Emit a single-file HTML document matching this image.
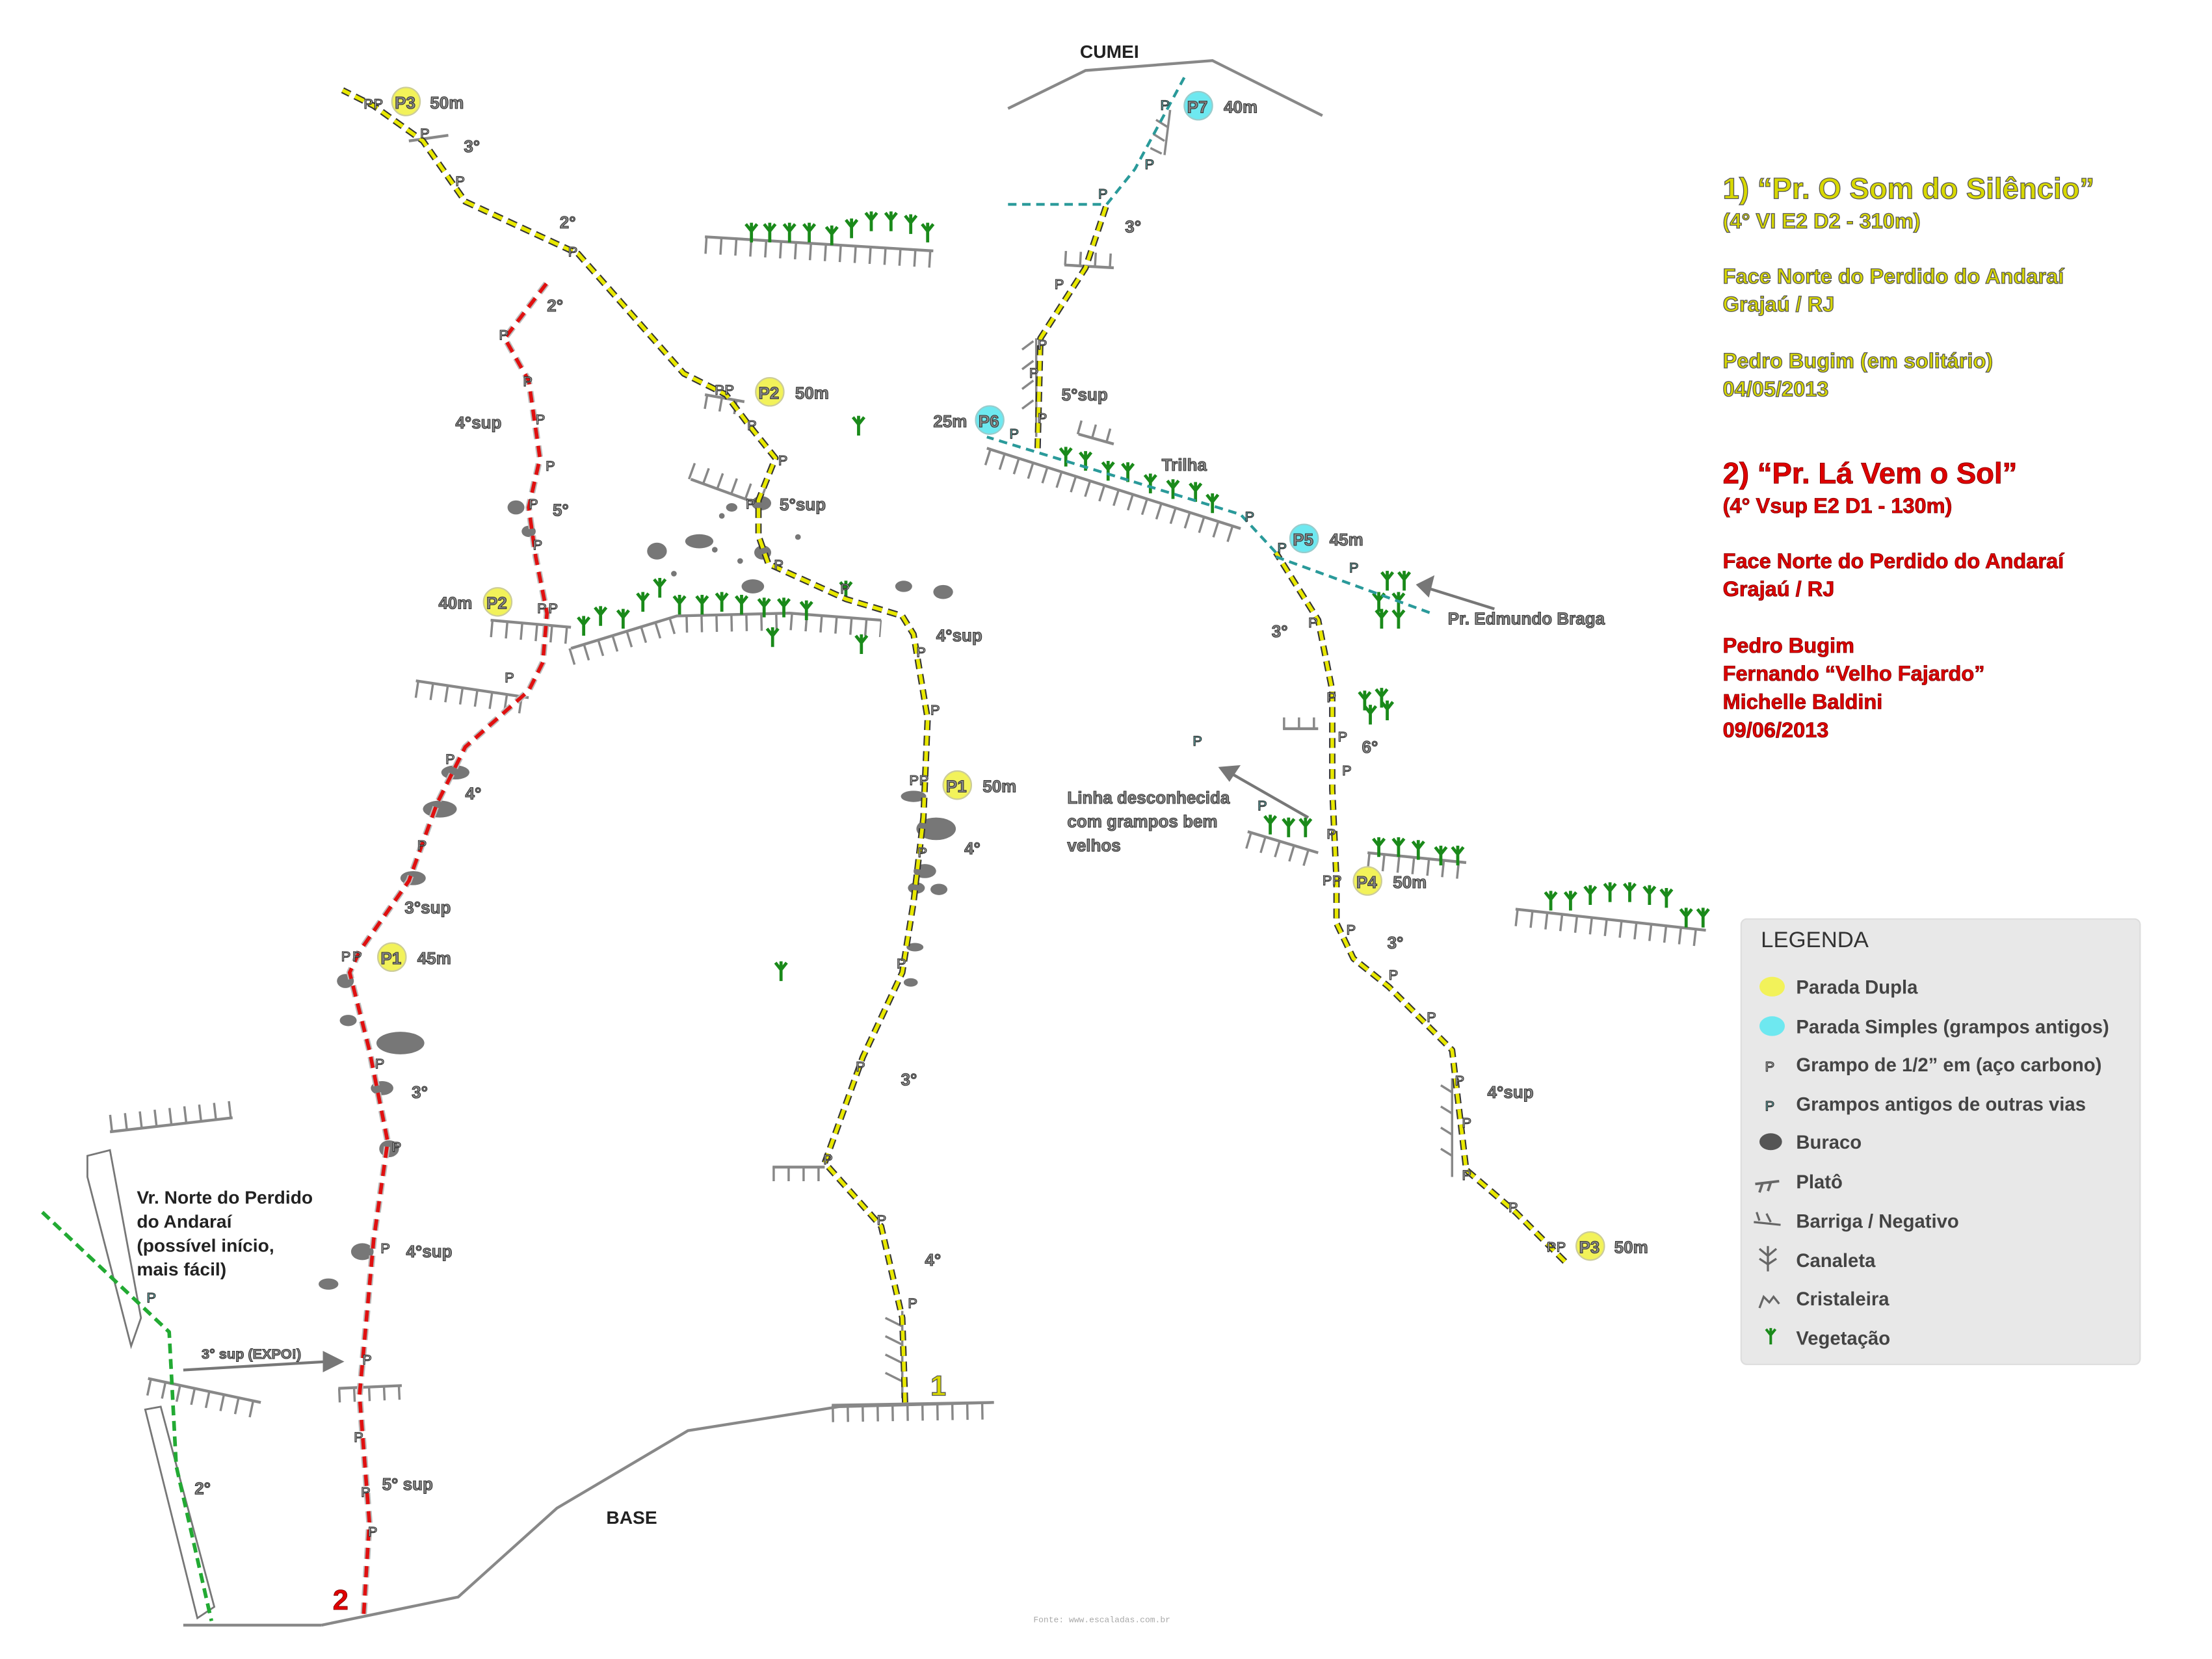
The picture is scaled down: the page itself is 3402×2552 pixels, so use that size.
<!DOCTYPE html>
<html><head><meta charset="utf-8"><style>
html,body{margin:0;padding:0;background:#fff}
svg{display:block}
.g{font-family:"Liberation Sans",sans-serif;font-weight:bold;fill:#8a8a8a;stroke:#333;stroke-width:.5}
.k{font-family:"Liberation Sans",sans-serif;font-weight:bold;fill:#222}
.p{font-family:"Liberation Sans",sans-serif;font-size:10px;fill:#fff;stroke:#333;stroke-width:.6}
.pc{font-family:"Liberation Sans",sans-serif;font-size:10px;fill:#7ee;stroke:#333;stroke-width:.6}
.st{font-family:"Liberation Sans",sans-serif;font-weight:bold;font-size:12px;fill:#888;stroke:#333;stroke-width:.5}
.y{font-family:"Liberation Sans",sans-serif;font-weight:bold;fill:#d8d800;stroke:#555;stroke-width:.6}
.r{font-family:"Liberation Sans",sans-serif;font-weight:bold;fill:#e00000;stroke:#700;stroke-width:.4}
.l{font-family:"Liberation Sans",sans-serif;font-weight:bold;font-size:13.5px;fill:#444}
.pl{fill:none;stroke:#888;stroke-width:2}
</style></head><body>
<svg width="3402" height="2552" viewBox="0 0 1569 1177" preserveAspectRatio="none" xmlns="http://www.w3.org/2000/svg">
<defs>
<symbol id="v" viewBox="-6 -8 12 14" overflow="visible"><path d="M0 6V-2M0 -2L-4 -7M0 -2L4 -7M0 -2V-8" stroke="#1a8a1a" stroke-width="2.2" fill="none"/></symbol>
</defs>
<rect width="1569" height="1177" fill="#fff"/>

<path d="M228 1153L325 1133L395 1070L488 1015L595 998L705 995" class="pl"/>
<path d="M130 1153H228" class="pl"/>
<path d="M715 77L770 50L860 43L938 82" class="pl"/>
<text x="766" y="41" class="k" font-size="13">CUMEI</text>
<text x="430" y="1081" class="k" font-size="13">BASE</text>

<g stroke="#888" stroke-width="2" fill="none">
<path d="M500 168L662 178"/><path d="M405 460L480 437L560 435L625 440"/><path d="M348 440L405 445"/>
<path d="M295 483L375 495"/><path d="M700 318L880 375"/><path d="M78 803L165 793"/>
<path d="M105 978L185 995"/><path d="M240 985L285 983"/><path d="M548 828L585 828"/>
<path d="M590 997L705 995"/><path d="M1075 645L1210 660"/><path d="M970 605L1040 612"/>
<path d="M885 590L935 605"/><path d="M910 517L935 517"/><path d="M500 280L528 285"/>
<path d="M490 340L545 360"/><path d="M765 308L790 315"/><path d="M755 188L790 190"/><path d="M290 100L318 96"/>
</g>
<g stroke="#888" stroke-width="1.6" stroke-dasharray="1.6 9" fill="none">
<path d="M500 174L662 184" stroke-width="12"/><path d="M405 466L480 443L560 441L625 446" stroke-width="12"/>
<path d="M348 446L405 451" stroke-width="12"/><path d="M295 489L375 501" stroke-width="12"/>
<path d="M700 324L880 381" stroke-width="12"/><path d="M78 797L165 787" stroke-width="12"/>
<path d="M105 984L185 1001" stroke-width="12"/><path d="M240 990L285 988" stroke-width="10"/>
<path d="M548 833L585 833" stroke-width="10"/><path d="M590 1003L705 1001" stroke-width="12"/>
<path d="M1075 651L1210 666" stroke-width="12"/><path d="M970 611L1040 618" stroke-width="12"/>
<path d="M885 596L935 611" stroke-width="12"/><path d="M910 513L935 513" stroke-width="8"/>
<path d="M500 285L528 290" stroke-width="10"/><path d="M490 334L545 354" stroke-width="12"/>
<path d="M765 303L790 310" stroke-width="10"/><path d="M755 183L790 185" stroke-width="10"/>
</g>
<g stroke="#888" stroke-width="1.6" fill="none">
<path d="M640 930V992M628 935l12 6M628 948l12 6M628 961l12 6M628 974l12 6"/>
<path d="M1030 765V835M1022 770l8 5M1022 785l8 5M1022 800l8 5M1022 815l8 5"/>
<path d="M830 78L826 110M820 85l8 5M818 95l8 5M816 105l8 4"/>
<path d="M735 240V310M725 248l8-6M725 262l8-6M725 276l8-6M725 290l8-6"/>
</g>

<g fill="#777">
<ellipse cx="284" cy="740" rx="17" ry="8"/><ellipse cx="271" cy="772" rx="8" ry="5"/><ellipse cx="276" cy="815" rx="7" ry="6"/>
<ellipse cx="257" cy="888" rx="8" ry="6"/><ellipse cx="233" cy="911" rx="7" ry="4"/><ellipse cx="245" cy="696" rx="6" ry="5"/><ellipse cx="247" cy="724" rx="6" ry="4"/>
<ellipse cx="312" cy="574" rx="12" ry="6"/><ellipse cx="323" cy="548" rx="10" ry="5"/><ellipse cx="293" cy="623" rx="9" ry="5"/>
<ellipse cx="366" cy="360" rx="6" ry="5"/><ellipse cx="375" cy="377" rx="5" ry="4"/>
<ellipse cx="466" cy="391" rx="7" ry="6"/><ellipse cx="496" cy="384" rx="10" ry="5"/><ellipse cx="534" cy="416" rx="8" ry="5"/>
<ellipse cx="519" cy="360" rx="4" ry="3"/><ellipse cx="541" cy="392" rx="6" ry="5"/><ellipse cx="540" cy="357" rx="7" ry="5"/>
<ellipse cx="641" cy="416" rx="6" ry="4"/><ellipse cx="669" cy="420" rx="7" ry="5"/>
<ellipse cx="664" cy="588" rx="14" ry="8"/><ellipse cx="648" cy="565" rx="9" ry="4"/><ellipse cx="656" cy="618" rx="8" ry="5"/>
<ellipse cx="650" cy="630" rx="6" ry="4"/><ellipse cx="666" cy="631" rx="6" ry="4"/><ellipse cx="649" cy="672" rx="6" ry="3"/><ellipse cx="646" cy="697" rx="5" ry="3"/>
<circle cx="507" cy="390" r="2"/><circle cx="512" cy="366" r="2"/><circle cx="478" cy="407" r="2"/><circle cx="525" cy="398" r="2"/><circle cx="566" cy="381" r="2"/>
</g>

<g>
<use href="#v" x="527" y="158" width="12" height="14"/><use href="#v" x="540" y="158" width="12" height="14"/><use href="#v" x="554" y="158" width="12" height="14"/>
<use href="#v" x="568" y="158" width="12" height="14"/><use href="#v" x="584" y="160" width="12" height="14"/><use href="#v" x="598" y="155" width="12" height="14"/>
<use href="#v" x="612" y="150" width="12" height="14"/><use href="#v" x="626" y="150" width="12" height="14"/><use href="#v" x="640" y="152" width="12" height="14"/><use href="#v" x="652" y="158" width="12" height="14"/>
<use href="#v" x="603" y="295" width="12" height="14"/><use href="#v" x="548" y="682" width="12" height="14"/><use href="#v" x="542" y="445" width="12" height="14"/><use href="#v" x="605" y="450" width="12" height="14"/>
<use href="#v" x="408" y="437" width="12" height="14"/><use href="#v" x="420" y="430" width="12" height="14"/><use href="#v" x="436" y="432" width="12" height="14"/>
<use href="#v" x="450" y="420" width="12" height="14"/><use href="#v" x="462" y="410" width="12" height="14"/><use href="#v" x="476" y="422" width="12" height="14"/>
<use href="#v" x="492" y="422" width="12" height="14"/><use href="#v" x="506" y="420" width="12" height="14"/><use href="#v" x="520" y="422" width="12" height="14"/>
<use href="#v" x="536" y="424" width="12" height="14"/><use href="#v" x="550" y="424" width="12" height="14"/><use href="#v" x="566" y="426" width="12" height="14"/><use href="#v" x="594" y="412" width="12" height="14"/>
<use href="#v" x="750" y="317" width="12" height="14"/><use href="#v" x="764" y="320" width="12" height="14"/><use href="#v" x="780" y="327" width="12" height="14"/>
<use href="#v" x="794" y="328" width="12" height="14"/><use href="#v" x="810" y="336" width="12" height="14"/><use href="#v" x="826" y="340" width="12" height="14"/>
<use href="#v" x="842" y="342" width="12" height="14"/><use href="#v" x="854" y="350" width="12" height="14"/>
<use href="#v" x="978" y="405" width="12" height="14"/><use href="#v" x="990" y="405" width="12" height="14"/><use href="#v" x="972" y="420" width="12" height="14"/>
<use href="#v" x="986" y="420" width="12" height="14"/><use href="#v" x="974" y="432" width="12" height="14"/><use href="#v" x="986" y="432" width="12" height="14"/>
<use href="#v" x="962" y="490" width="12" height="14"/><use href="#v" x="974" y="488" width="12" height="14"/><use href="#v" x="966" y="500" width="12" height="14"/><use href="#v" x="978" y="497" width="12" height="14"/>
<use href="#v" x="895" y="578" width="12" height="14"/><use href="#v" x="908" y="580" width="12" height="14"/><use href="#v" x="920" y="580" width="12" height="14"/>
<use href="#v" x="972" y="594" width="12" height="14"/><use href="#v" x="986" y="594" width="12" height="14"/><use href="#v" x="1000" y="596" width="12" height="14"/><use href="#v" x="1016" y="600" width="12" height="14"/><use href="#v" x="1028" y="600" width="12" height="14"/>
<use href="#v" x="1094" y="632" width="12" height="14"/><use href="#v" x="1108" y="632" width="12" height="14"/><use href="#v" x="1122" y="628" width="12" height="14"/>
<use href="#v" x="1136" y="626" width="12" height="14"/><use href="#v" x="1150" y="626" width="12" height="14"/><use href="#v" x="1164" y="628" width="12" height="14"/>
<use href="#v" x="1176" y="630" width="12" height="14"/><use href="#v" x="1190" y="644" width="12" height="14"/><use href="#v" x="1202" y="644" width="12" height="14"/>
</g>

<path d="M62 820L78 816L100 935L93 955L62 835Z" fill="none" stroke="#777" stroke-width="1.3"/>
<path d="M103 1000L114 998L152 1140L140 1148Z" fill="none" stroke="#777" stroke-width="1.3"/>

<g fill="none" stroke-linejoin="round">
<path d="M642 995L640 935L625 870L585 825L612 750L640 690L648 640L655 580L658 510L648 450L640 437L600 425L545 400L538 380L538 355L550 325L530 300L515 280L485 265L410 180L330 143L300 100L265 75L243 64" stroke="#333" stroke-width="4.5" stroke-dasharray="7 4"/>
<path d="M642 995L640 935L625 870L585 825L612 750L640 690L648 640L655 580L658 510L648 450L640 437L600 425L545 400L538 380L538 355L550 325L530 300L515 280L485 265L410 180L330 143L300 100L265 75L243 64" stroke="#e8e800" stroke-width="2.6" stroke-dasharray="7 4"/>
<path d="M1110 895L1075 860L1040 830L1030 745L985 700L960 680L948 655L948 625L945 560L945 490L935 440L910 400L905 392" stroke="#333" stroke-width="4.5" stroke-dasharray="7 4"/>
<path d="M1110 895L1075 860L1040 830L1030 745L985 700L960 680L948 655L948 625L945 560L945 490L935 440L910 400L905 392" stroke="#e8e800" stroke-width="2.6" stroke-dasharray="7 4"/>
<path d="M736 318L738 240L770 190L785 145" stroke="#333" stroke-width="4.5" stroke-dasharray="7 4"/>
<path d="M736 318L738 240L770 190L785 145" stroke="#e8e800" stroke-width="2.6" stroke-dasharray="7 4"/>
<path d="M905 392L880 365L700 310M785 145L805 120L840 55M715 145H785M905 395L1015 435" stroke="#2a9a9a" stroke-width="2" stroke-dasharray="6 4"/>
<path d="M258 1145L262 1080L255 990L265 880L275 810L262 745L248 690L255 675L290 625L310 570L330 530L375 490L385 470L388 435L380 395L375 360L383 325L375 270L358 240L390 198" stroke="#bbb" stroke-width="4.5" stroke-dasharray="8 5"/>
<path d="M258 1145L262 1080L255 990L265 880L275 810L262 745L248 690L255 675L290 625L310 570L330 530L375 490L385 470L388 435L380 395L375 360L383 325L375 270L358 240L390 198" stroke="#e01010" stroke-width="2.6" stroke-dasharray="8 5"/>
<path d="M30 860L120 945L125 1040L150 1150" stroke="#22aa33" stroke-width="2.6" stroke-dasharray="7 4"/>
</g>

<g stroke="#777" stroke-width="2" fill="#777">
<path d="M130 972L232 966"/><path d="M242 966L230 960L230 972Z"/>
<path d="M1060 432L1012 417"/><path d="M1006 415L1016 410L1013 422Z"/>
<path d="M928 580L872 548"/><path d="M866 545L878 544L872 553Z"/>
</g>

<g stroke="#cc9" stroke-width="1">
<circle cx="288" cy="72" r="10" fill="#f2f25a"/><circle cx="546" cy="278" r="10" fill="#f2f25a"/><circle cx="353" cy="427" r="10" fill="#f2f25a"/>
<circle cx="679" cy="557" r="10" fill="#f2f25a"/><circle cx="278" cy="679" r="10" fill="#f2f25a"/><circle cx="970" cy="625" r="10" fill="#f2f25a"/>
<circle cx="1128" cy="884" r="10" fill="#f2f25a"/>
<circle cx="850" cy="75" r="10" fill="#6ee8f0" stroke="#9cc"/><circle cx="702" cy="298" r="10" fill="#6ee8f0" stroke="#9cc"/><circle cx="925" cy="382" r="10" fill="#6ee8f0" stroke="#9cc"/>
</g>
<g class="st">
<text x="280" y="77">P3</text><text x="538" y="283">P2</text><text x="345" y="432">P2</text><text x="671" y="562">P1</text>
<text x="270" y="684">P1</text><text x="962" y="630">P4</text><text x="1120" y="889">P3</text>
<text x="842" y="80">P7</text><text x="694" y="303">P6</text><text x="917" y="387">P5</text>
<text x="305" y="77">50m</text><text x="564" y="283">50m</text><text x="311" y="432">40m</text><text x="697" y="562">50m</text>
<text x="296" y="684">45m</text><text x="988" y="630">50m</text><text x="1145" y="889">50m</text>
<text x="868" y="80">40m</text><text x="662" y="303">25m</text><text x="943" y="387">45m</text>
<text x="329" y="108">3°</text><text x="397" y="162">2°</text><text x="388" y="221">2°</text><text x="323" y="304">4°sup</text>
<text x="392" y="366">5°</text><text x="553" y="362">5°sup</text><text x="664" y="455">4°sup</text><text x="330" y="567">4°</text>
<text x="287" y="648">3°sup</text><text x="684" y="606">4°</text><text x="292" y="779">3°</text><text x="639" y="770">3°</text>
<text x="288" y="892">4°sup</text><text x="656" y="898">4°</text><text x="271" y="1057">5° sup</text><text x="138" y="1060">2°</text>
<text x="798" y="165">3°</text><text x="753" y="284">5°sup</text><text x="902" y="452">3°</text><text x="966" y="534">6°</text>
<text x="984" y="673">3°</text><text x="1055" y="779">4°sup</text><text x="824" y="334">Trilha</text>
<text x="1027" y="443">Pr. Edmundo Braga</text>
<text x="757" y="570">Linha desconhecida</text><text x="757" y="587">com grampos bem</text><text x="757" y="604">velhos</text>
</g>
<text x="143" y="964" class="g" font-size="10">3° sup (EXPO!)</text>
<text x="660" y="990" class="y" font-size="20">1</text>
<text x="236" y="1142" class="r" font-size="20">2</text>
<text x="97" y="854" class="k" font-size="13">Vr. Norte do Perdido</text>
<text x="97" y="871" class="k" font-size="13">do Andaraí</text>
<text x="97" y="888" class="k" font-size="13">(possível início,</text>
<text x="97" y="905" class="k" font-size="13">mais fácil)</text>

<g class="p">
<text x="258" y="77">P</text><text x="265" y="77">P</text><text x="298" y="98">P</text><text x="323" y="132">P</text><text x="403" y="182">P</text>
<text x="507" y="280">P</text><text x="514" y="280">P</text><text x="530" y="305">P</text><text x="552" y="330">P</text><text x="529" y="361">P</text>
<text x="549" y="404">P</text><text x="596" y="421">P</text><text x="650" y="466">P</text><text x="660" y="507">P</text><text x="645" y="557">P</text><text x="652" y="557">P</text>
<text x="651" y="608">P</text><text x="636" y="687">P</text><text x="607" y="760">P</text><text x="584" y="826">P</text><text x="622" y="869">P</text><text x="644" y="928">P</text>
<text x="354" y="241">P</text><text x="371" y="274">P</text><text x="380" y="301">P</text><text x="387" y="334">P</text><text x="375" y="361">P</text><text x="378" y="390">P</text>
<text x="381" y="435">P</text><text x="389" y="435">P</text><text x="358" y="484">P</text><text x="316" y="542">P</text><text x="296" y="603">P</text><text x="242" y="682">P</text><text x="250" y="682">P</text>
<text x="266" y="758">P</text><text x="278" y="817">P</text><text x="270" y="889">P</text><text x="257" y="968">P</text><text x="251" y="1023">P</text><text x="256" y="1062">P</text><text x="261" y="1090">P</text>
<text x="1097" y="888">P</text><text x="1104" y="888">P</text><text x="1070" y="860">P</text><text x="1012" y="725">P</text><text x="985" y="695">P</text><text x="955" y="663">P</text>
<text x="938" y="628">P</text><text x="945" y="628">P</text><text x="941" y="595">P</text><text x="952" y="550">P</text><text x="949" y="526">P</text><text x="941" y="498">P</text><text x="928" y="445">P</text>
<text x="1037" y="837">P</text><text x="1037" y="800">P</text><text x="1032" y="770">P</text><text x="748" y="205">P</text><text x="736" y="248">P</text><text x="730" y="268">P</text><text x="736" y="300">P</text>
</g>
<g class="pc">
<text x="104" y="924">P</text><text x="716" y="311">P</text><text x="779" y="141">P</text><text x="812" y="120">P</text><text x="823" y="78">P</text>
<text x="883" y="370">P</text><text x="906" y="392">P</text><text x="957" y="406">P</text><text x="846" y="529">P</text><text x="892" y="575">P</text>
</g>

<text x="1222" y="141" class="y" font-size="21">1) “Pr. O Som do Silêncio”</text>
<text x="1222" y="162" class="y" font-size="15">(4° VI E2 D2 - 310m)</text>
<text x="1222" y="201" class="y" font-size="15">Face Norte do Perdido do Andaraí</text>
<text x="1222" y="221" class="y" font-size="15">Grajaú / RJ</text>
<text x="1222" y="261" class="y" font-size="15">Pedro Bugim (em solitário)</text>
<text x="1222" y="281" class="y" font-size="15">04/05/2013</text>
<text x="1222" y="343" class="r" font-size="21">2) “Pr. Lá Vem o Sol”</text>
<text x="1222" y="364" class="r" font-size="15">(4° Vsup E2 D1 - 130m)</text>
<text x="1222" y="403" class="r" font-size="15">Face Norte do Perdido do Andaraí</text>
<text x="1222" y="423" class="r" font-size="15">Grajaú / RJ</text>
<text x="1222" y="463" class="r" font-size="15">Pedro Bugim</text>
<text x="1222" y="483" class="r" font-size="15">Fernando “Velho Fajardo”</text>
<text x="1222" y="503" class="r" font-size="15">Michelle Baldini</text>
<text x="1222" y="523" class="r" font-size="15">09/06/2013</text>

<rect x="1235" y="652" width="283" height="316" rx="4" fill="#e8e8e8" stroke="#ddd"/>
<text x="1249" y="672" font-family="Liberation Sans,sans-serif" font-size="16" fill="#333">LEGENDA</text>
<ellipse cx="1257" cy="700" rx="9" ry="7" fill="#f2f25a"/>
<ellipse cx="1257" cy="728" rx="9" ry="7" fill="#6ee8f0"/>
<text x="1252" y="760" class="p" font-size="11">P</text>
<text x="1252" y="788" class="pc" font-size="11">P</text>
<ellipse cx="1256" cy="810" rx="8" ry="6" fill="#555"/>
<path d="M1245 840L1262 838M1250 840l-2 6M1256 839l-2 6" stroke="#666" stroke-width="1.8" fill="none"/>
<path d="M1244 867L1263 869M1248 866l-2-6M1256 867l-3-6" stroke="#666" stroke-width="1.5" fill="none"/>
<path d="M1254 884V902M1254 891l6-5M1254 891l-6-5M1254 897l6-4M1254 897l-6-4" stroke="#666" stroke-width="1.5" fill="none"/>
<path d="M1248 928l3-8 4 4 3-4 4 5" stroke="#666" stroke-width="1.5" fill="none"/>
<use href="#v" x="1251" y="942" width="10" height="12"/>
<g class="l">
<text x="1274" y="705">Parada Dupla</text><text x="1274" y="733">Parada Simples (grampos antigos)</text>
<text x="1274" y="760">Grampo de 1/2” em (aço carbono)</text><text x="1274" y="788">Grampos antigos de outras vias</text>
<text x="1274" y="815">Buraco</text><text x="1274" y="843">Platô</text><text x="1274" y="871">Barriga / Negativo</text>
<text x="1274" y="899">Canaleta</text><text x="1274" y="926">Cristaleira</text><text x="1274" y="954">Vegetação</text>
</g>
<text x="733" y="1151" font-family="Liberation Mono,monospace" font-size="6" fill="#aaa">Fonte: www.escaladas.com.br</text>
</svg>
</body></html>
